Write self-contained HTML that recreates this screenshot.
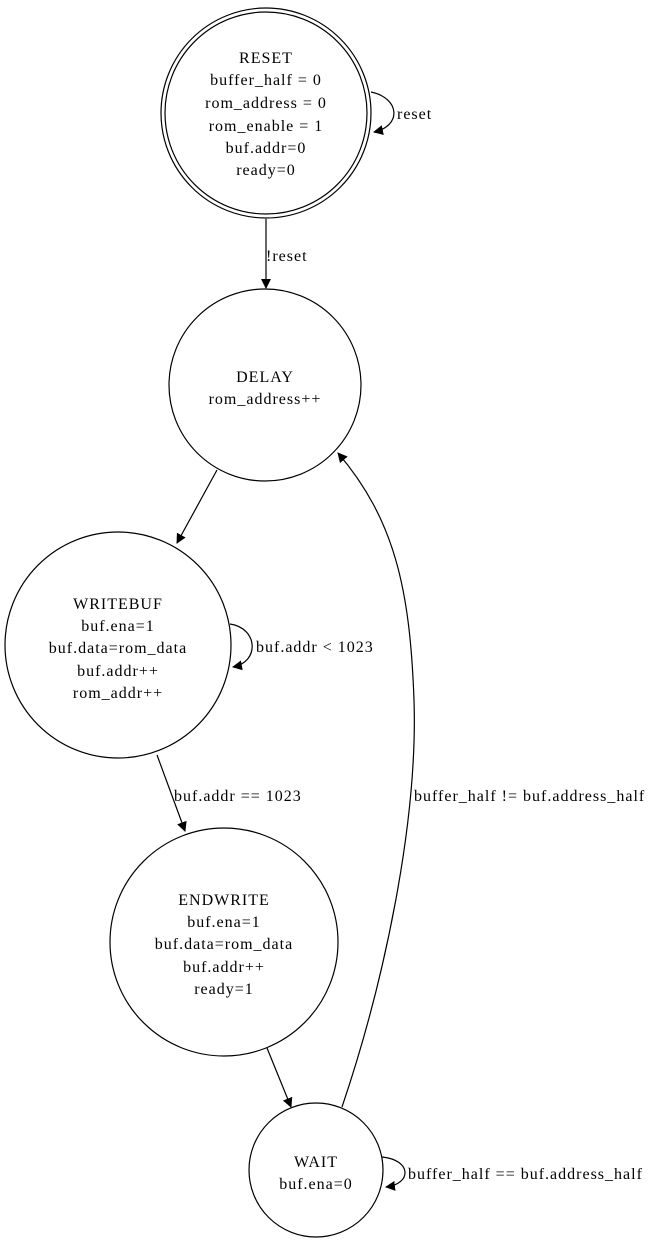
<!DOCTYPE html>
<html><head><meta charset="utf-8"><style>
html,body{margin:0;padding:0;background:#fff;}
svg{display:block;}
text{font-family:"Liberation Serif",serif;font-size:16px;fill:#000;letter-spacing:1px;}
</style></head><body>
<svg width="649" height="1245" viewBox="0 0 649 1245" xmlns="http://www.w3.org/2000/svg">
<defs>
<marker id="a" markerWidth="10" markerHeight="10" refX="9" refY="5" orient="auto" markerUnits="userSpaceOnUse" viewBox="0 0 10 10">
<path d="M0,0 L10,5 L0,10 z" fill="#000"/>
</marker>
</defs>
<g fill="none" stroke="#000" stroke-width="1.2">
<circle cx="266" cy="113" r="105"/>
<circle cx="266" cy="113" r="101"/>
<circle cx="265" cy="385" r="96"/>
<circle cx="118" cy="645" r="113"/>
<circle cx="224" cy="942" r="114"/>
<circle cx="316" cy="1170" r="67"/>
<path d="M266,219 L266,288" marker-end="url(#a)"/>
<path d="M371,92 C400,98 402,126 374,132" marker-end="url(#a)"/>
<path d="M217,470 L177,543" marker-end="url(#a)"/>
<path d="M230,624 C258,628 260,662 233,667" marker-end="url(#a)"/>
<path d="M157,755 L185,831" marker-end="url(#a)"/>
<path d="M267,1048 L291,1107" marker-end="url(#a)"/>
<path d="M382,1157 C412,1160 412,1184 386,1187" marker-end="url(#a)"/>
<path d="M342,1107 C385,980 418,820 414,700 C410,590 395,520 338,453" marker-end="url(#a)"/>
</g>
<g text-anchor="middle">
<text x="266" y="63">RESET</text>
<text x="266" y="85">buffer_half = 0</text>
<text x="266" y="108">rom_address = 0</text>
<text x="266" y="131">rom_enable = 1</text>
<text x="266" y="153">buf.addr=0</text>
<text x="266" y="175">ready=0</text>
<text x="265" y="382">DELAY</text>
<text x="265" y="404">rom_address++</text>
<text x="118" y="609">WRITEBUF</text>
<text x="118" y="631">buf.ena=1</text>
<text x="118" y="653">buf.data=rom_data</text>
<text x="118" y="676">buf.addr++</text>
<text x="118" y="698">rom_addr++</text>
<text x="224" y="905">ENDWRITE</text>
<text x="224" y="927">buf.ena=1</text>
<text x="224" y="949">buf.data=rom_data</text>
<text x="224" y="972">buf.addr++</text>
<text x="224" y="994">ready=1</text>
<text x="316" y="1167">WAIT</text>
<text x="316" y="1189">buf.ena=0</text>
</g>
<text x="266" y="261">!reset</text>
<text x="397" y="119">reset</text>
<text x="256" y="652">buf.addr &lt; 1023</text>
<text x="174" y="801">buf.addr == 1023</text>
<text x="414" y="801">buffer_half != buf.address_half</text>
<text x="408" y="1179">buffer_half == buf.address_half</text>
</svg>
</body></html>
